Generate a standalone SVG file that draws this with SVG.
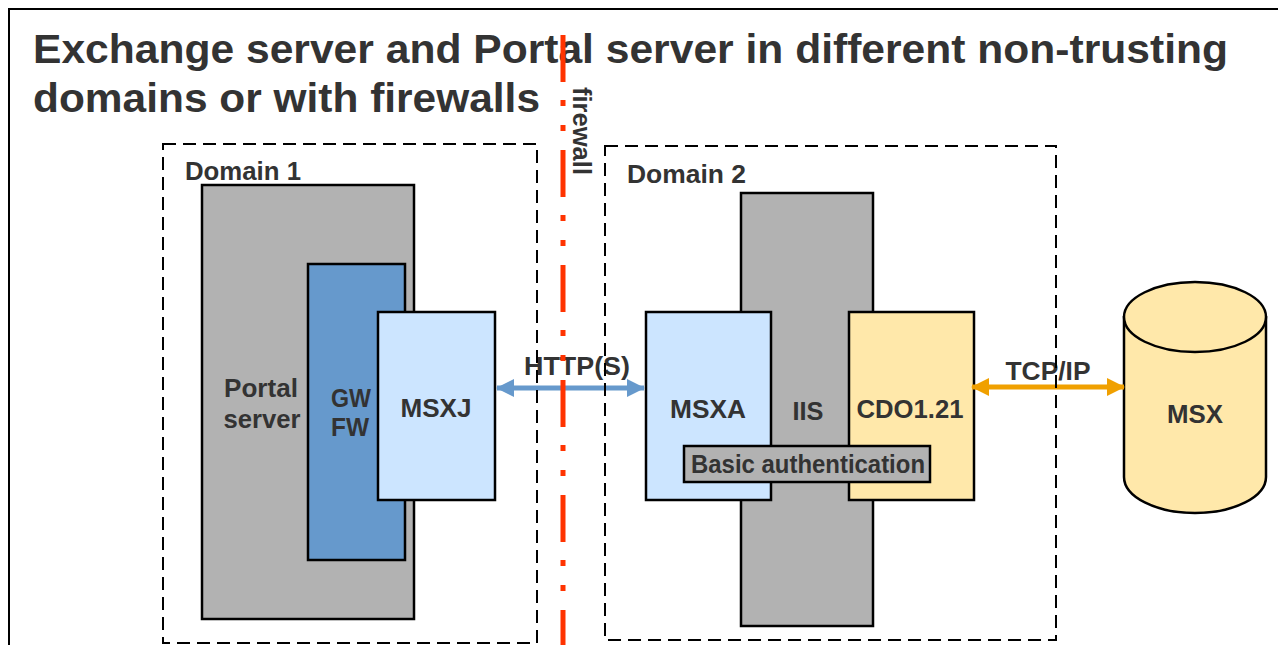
<svg xmlns="http://www.w3.org/2000/svg" width="1278" height="645" viewBox="0 0 1278 645">
<defs>
<style>
.t{font-family:"Liberation Sans",Arial,sans-serif;font-weight:bold;fill:#333333}
.lbl{font-size:26px;text-anchor:middle}
.box{stroke:#000;stroke-width:2.5}
.dom{fill:none;stroke:#000;stroke-width:2;stroke-dasharray:13 7}
</style>
<marker id="ab" viewBox="0 0 18 18" refX="17" refY="9" markerWidth="18" markerHeight="18" markerUnits="userSpaceOnUse" orient="auto-start-reverse"><path d="M0,0 L18,9 L0,18 z" fill="#6699CC"/></marker>
<marker id="ao" viewBox="0 0 18 18" refX="17" refY="9" markerWidth="18" markerHeight="18" markerUnits="userSpaceOnUse" orient="auto-start-reverse"><path d="M0,0 L18,9 L0,18 z" fill="#F0A000"/></marker>
</defs>
<rect x="0" y="0" width="1278" height="645" fill="#fff"/>
<rect x="9" y="9" width="1300" height="680" fill="none" stroke="#000" stroke-width="2"/>
<g id="title">
<text class="t" x="33" y="63" font-size="40" textLength="1195" lengthAdjust="spacingAndGlyphs">Exchange server and Portal server in different non-trusting</text>
<text class="t" x="33" y="112" font-size="40" textLength="507" lengthAdjust="spacingAndGlyphs">domains or with firewalls</text>
</g>
<g id="portal-server">
<rect class="box" x="202" y="185" width="212" height="434" fill="#B2B2B2"/>
<text class="t lbl" x="261" y="397" textLength="74" lengthAdjust="spacingAndGlyphs">Portal</text>
<text class="t lbl" x="262" y="428" textLength="77" lengthAdjust="spacingAndGlyphs">server</text>
</g>
<g id="gwfw">
<rect class="box" x="308" y="264" width="97" height="296" fill="#6699CC"/>
<text class="t lbl" x="351" y="407" textLength="40" lengthAdjust="spacingAndGlyphs">GW</text>
<text class="t lbl" x="350" y="436" textLength="38" lengthAdjust="spacingAndGlyphs">FW</text>
</g>
<g id="msxj">
<rect class="box" x="378" y="312" width="117" height="188" fill="#CCE5FF"/>
<text class="t lbl" x="436" y="417" textLength="71" lengthAdjust="spacingAndGlyphs">MSXJ</text>
</g>
<g id="iis">
<rect class="box" x="741" y="193" width="132" height="433" fill="#B2B2B2"/>
<text class="t lbl" x="808" y="420" textLength="31" lengthAdjust="spacingAndGlyphs">IIS</text>
</g>
<g id="msxa">
<rect class="box" x="646" y="312" width="125" height="188" fill="#CCE5FF"/>
<text class="t lbl" x="708" y="418" textLength="76" lengthAdjust="spacingAndGlyphs">MSXA</text>
</g>
<g id="cdo">
<rect class="box" x="849" y="312" width="125" height="188" fill="#FFE8AA"/>
<text class="t lbl" x="910" y="418" textLength="107" lengthAdjust="spacingAndGlyphs">CDO1.21</text>
</g>
<g id="basic-auth">
<rect class="box" x="684" y="446" width="246" height="36" fill="#B2B2B2"/>
<text class="t lbl" x="808" y="473" textLength="234" lengthAdjust="spacingAndGlyphs">Basic authentication</text>
</g>
<g id="msx">
<path class="box" d="M1124,316 L1124,477 A71,36 0 0 0 1266,477 L1266,316" fill="#FFE8AA"/>
<ellipse class="box" cx="1195" cy="317" rx="71" ry="35" fill="#FFE8AA"/>
<text class="t lbl" x="1195" y="423" textLength="56" lengthAdjust="spacingAndGlyphs">MSX</text>
</g>
<g id="connectors">
<line x1="497" y1="388" x2="644" y2="388" stroke="#6699CC" stroke-width="5" marker-start="url(#ab)" marker-end="url(#ab)"/>
<text class="t lbl" x="577" y="375" textLength="106" lengthAdjust="spacingAndGlyphs">HTTP(S)</text>
<line x1="972" y1="387" x2="1124" y2="387" stroke="#F0A000" stroke-width="5" marker-start="url(#ao)" marker-end="url(#ao)"/>
<text class="t lbl" x="1048" y="380" textLength="85" lengthAdjust="spacingAndGlyphs">TCP/IP</text>
</g>
<g id="domain1">
<rect class="dom" x="163" y="144" width="374" height="499"/>
<text class="t" x="185" y="180" font-size="25" textLength="116" lengthAdjust="spacingAndGlyphs">Domain 1</text>
</g>
<g id="domain2">
<rect class="dom" x="605" y="146" width="451" height="494"/>
<text class="t" x="627" y="183" font-size="25" textLength="119" lengthAdjust="spacingAndGlyphs">Domain 2</text>
</g>
<g id="firewall">
<line x1="563" y1="35" x2="563" y2="660" stroke="#FF3300" stroke-width="5" stroke-dasharray="47 18 6 19 6 19"/>
<text class="t" x="0" y="0" font-size="25" textLength="88" lengthAdjust="spacingAndGlyphs" transform="translate(573,87) rotate(90)">firewall</text>
</g>
</svg>
